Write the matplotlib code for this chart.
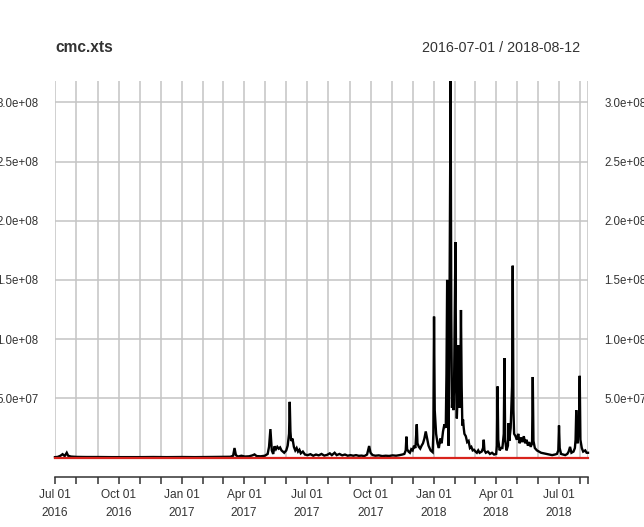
import matplotlib
matplotlib.use("Agg")
import matplotlib.pyplot as plt
import matplotlib.dates as mdates
import pandas as pd

# daily volume readings (millions)
dates = [
    "2016-07-01", "2016-07-05", "2016-07-09", "2016-07-12", "2016-07-15", "2016-07-18",
    "2016-07-20", "2016-07-24", "2016-08-01", "2016-08-15", "2016-09-01", "2016-09-20",
    "2016-10-10", "2016-11-01", "2016-11-20", "2016-12-10",
    "2017-01-01", "2017-01-20", "2017-02-10", "2017-03-01", "2017-03-12", "2017-03-16",
    "2017-03-18", "2017-03-20", "2017-03-23", "2017-03-28", "2017-04-02", "2017-04-08",
    "2017-04-13", "2017-04-16", "2017-04-19", "2017-04-25", "2017-05-01", "2017-05-05",
    "2017-05-07", "2017-05-09", "2017-05-11", "2017-05-13", "2017-05-15", "2017-05-17",
    "2017-05-19", "2017-05-21", "2017-05-23", "2017-05-25", "2017-05-27", "2017-05-29",
    "2017-06-01", "2017-06-03", "2017-06-05", "2017-06-06", "2017-06-07", "2017-06-08",
    "2017-06-10", "2017-06-12", "2017-06-14", "2017-06-16", "2017-06-18", "2017-06-20",
    "2017-06-22", "2017-06-25", "2017-06-28", "2017-07-02", "2017-07-06", "2017-07-10",
    "2017-07-14", "2017-07-18", "2017-07-22", "2017-07-26", "2017-07-30", "2017-08-03",
    "2017-08-06", "2017-08-10", "2017-08-13", "2017-08-17", "2017-08-21", "2017-08-25",
    "2017-08-29", "2017-09-02", "2017-09-06", "2017-09-10", "2017-09-14", "2017-09-18",
    "2017-09-22", "2017-09-26", "2017-09-29", "2017-10-01", "2017-10-04", "2017-10-08",
    "2017-10-13", "2017-10-18", "2017-10-23", "2017-10-28", "2017-11-02", "2017-11-07",
    "2017-11-12", "2017-11-16", "2017-11-19", "2017-11-21", "2017-11-22", "2017-11-23",
    "2017-11-25", "2017-11-27", "2017-11-29", "2017-12-01", "2017-12-03", "2017-12-05",
    "2017-12-07", "2017-12-08", "2017-12-10", "2017-12-12", "2017-12-14", "2017-12-16",
    "2017-12-18", "2017-12-20", "2017-12-22", "2017-12-24", "2017-12-27", "2017-12-30",
    "2017-12-31",
    "2018-01-01", "2018-01-02", "2018-01-04", "2018-01-06", "2018-01-08", "2018-01-10",
    "2018-01-12", "2018-01-14", "2018-01-16", "2018-01-18", "2018-01-19", "2018-01-20",
    "2018-01-21", "2018-01-22", "2018-01-23", "2018-01-25", "2018-01-26", "2018-01-27",
    "2018-01-28", "2018-01-29", "2018-01-30", "2018-01-31", "2018-02-01", "2018-02-02",
    "2018-02-03", "2018-02-04", "2018-02-05", "2018-02-06", "2018-02-07", "2018-02-08",
    "2018-02-09", "2018-02-10", "2018-02-11", "2018-02-12", "2018-02-13", "2018-02-14",
    "2018-02-16", "2018-02-18", "2018-02-20", "2018-02-22", "2018-02-24", "2018-02-26",
    "2018-02-28", "2018-03-02", "2018-03-04", "2018-03-06", "2018-03-08", "2018-03-11",
    "2018-03-13", "2018-03-14", "2018-03-15", "2018-03-17", "2018-03-20", "2018-03-23",
    "2018-03-26", "2018-03-29", "2018-04-01", "2018-04-02", "2018-04-03", "2018-04-04",
    "2018-04-06", "2018-04-08", "2018-04-10", "2018-04-12", "2018-04-13", "2018-04-14",
    "2018-04-16", "2018-04-18", "2018-04-19", "2018-04-20", "2018-04-22", "2018-04-24",
    "2018-04-25", "2018-04-26", "2018-04-27", "2018-04-29", "2018-05-01", "2018-05-03",
    "2018-05-05", "2018-05-07", "2018-05-09", "2018-05-11", "2018-05-13", "2018-05-15",
    "2018-05-17", "2018-05-19", "2018-05-21", "2018-05-23", "2018-05-24", "2018-05-25",
    "2018-05-27", "2018-05-30", "2018-06-02", "2018-06-05", "2018-06-09", "2018-06-13",
    "2018-06-17", "2018-06-21", "2018-06-25", "2018-06-28", "2018-06-30", "2018-07-01",
    "2018-07-02", "2018-07-04", "2018-07-07", "2018-07-10", "2018-07-13", "2018-07-15",
    "2018-07-17", "2018-07-19", "2018-07-22", "2018-07-24", "2018-07-25", "2018-07-26",
    "2018-07-27", "2018-07-28", "2018-07-29", "2018-07-30", "2018-07-31", "2018-08-01",
    "2018-08-03", "2018-08-05", "2018-08-08", "2018-08-10", "2018-08-12",
]
volume_m = [
    0.3, 0.5, 1.5, 2.8, 1.2, 4.0,
    1.5, 0.8, 0.5, 0.4, 0.4, 0.3,
    0.3, 0.3, 0.4, 0.3,
    0.4, 0.3, 0.4, 0.5, 0.6, 1.5,
    8.0, 2.0, 0.8, 1.5, 0.8, 1.0,
    1.8, 2.6, 1.2, 1.0, 1.5, 3.0,
    9.0, 24.0, 6.0, 3.0, 9.5, 7.0,
    9.0, 7.5, 8.5, 6.0, 5.0, 4.0,
    6.0, 10.0, 20.0, 47.0, 22.0, 14.0,
    16.0, 9.0, 6.0, 8.0, 5.0, 6.5,
    3.5, 5.0, 2.5, 2.0, 2.8, 1.5,
    2.5, 1.8, 3.0, 1.6, 2.2, 3.5,
    2.0, 4.0, 2.0, 3.0, 1.8, 2.5,
    1.5, 2.0, 1.5, 2.0, 1.4, 1.6,
    1.2, 2.5, 9.7, 4.0, 2.0, 1.5,
    1.8, 1.2, 1.5, 1.3, 1.8, 1.5,
    2.0, 2.5, 3.0, 6.0, 17.6, 7.0,
    5.0, 4.0, 7.0, 6.0, 10.0, 8.0,
    28.0, 12.0, 9.0, 7.5, 10.0, 12.0,
    16.0, 22.0, 16.0, 10.0, 6.0, 4.5,
    20.0,
    119.0, 40.0, 20.0, 12.0, 8.0, 16.0,
    12.0, 22.0, 28.0, 25.0, 70.0, 150.0,
    60.0, 10.0, 80.0, 318.0, 120.0, 42.0,
    55.0, 40.0, 60.0, 120.0, 182.0, 60.0,
    33.0, 50.0, 95.0, 55.0, 42.0, 60.0,
    124.6, 60.0, 27.0, 32.0, 25.0, 20.0,
    18.0, 13.0, 14.0, 8.0, 9.0, 6.0,
    6.5, 5.0, 4.0, 6.0, 4.0, 5.0,
    8.0, 15.0, 6.0, 4.0, 5.0, 3.0,
    4.0, 2.5, 3.0, 10.0, 60.0, 15.0,
    6.0, 8.0, 8.0, 20.0, 84.0, 15.0,
    6.0, 10.0, 29.0, 14.0, 25.0, 60.0,
    162.0, 40.0, 20.0, 18.0, 15.0, 20.0,
    12.0, 17.0, 13.0, 18.0, 12.0, 15.0,
    10.0, 13.0, 9.0, 12.0, 68.0, 14.0,
    8.0, 6.0, 5.0, 4.0, 3.5, 3.0,
    2.5, 2.0, 2.5, 3.0, 6.0, 27.0,
    8.0, 3.0, 2.5, 2.0, 3.0, 5.0,
    9.0, 4.0, 5.0, 8.0, 15.0, 40.0,
    20.0, 12.0, 23.0, 30.0, 69.0, 15.0,
    8.0, 5.0, 6.0, 4.0, 4.0,
]

# second column, practically zero on this scale
red_dates = ["2016-07-01", "2017-01-01", "2017-07-01", "2018-01-01", "2018-08-12"]
red_values = [0.0, 0.0, 0.0, 0.0, 0.0]

title = "cmc.xts"
date_range = "2016-07-01 / 2018-08-12"
y_ticks = [5e7, 1e8, 1.5e8, 2e8, 2.5e8, 3e8]

plt.rcParams["font.family"] = ["Liberation Sans", "DejaVu Sans"]

x = pd.to_datetime(dates)
y = [v * 1e6 for v in volume_m]
xr = pd.to_datetime(red_dates)

W, H = 644, 527
fig = plt.figure(figsize=(W / 100, H / 100), dpi=100)
ax = fig.add_axes([55 / W, 1 - 457.5 / H, (588 - 55) / W, (457.5 - 81) / H])

ax.plot(x, y, color="black", lw=1.7, clip_on=False, zorder=3, solid_joinstyle="miter")
ax.plot(xr, red_values, color="#D8231C", lw=1.6, clip_on=False, zorder=4)

x0, x1 = x[0], x[-1]
ax.set_xlim(x0, x1)
ax.set_ylim(min(min(red_values), min(y)), max(y))

# ticks: every month plus the last day
ticks = list(pd.date_range(x0, x1, freq="MS")) + [x1]
tnum = mdates.date2num(ticks)
labels = [
    f"{t.strftime('%b %d')}\n{t.year}" if (t.day == 1 and t.month in (1, 4, 7, 10)) else ""
    for t in ticks
]
ax.set_xticks(tnum)
ax.set_xticklabels(labels)
ax.set_yticks(y_ticks)
ax.yaxis.set_major_formatter(plt.FuncFormatter(lambda v, p: f"{v:.1e}"))

for s in ("top", "left", "right"):
    ax.spines[s].set_visible(False)
ax.spines["bottom"].set_position(("outward", 14))
ax.spines["bottom"].set_bounds(tnum[0], tnum[-1])
ax.spines["bottom"].set_linewidth(1.1)
ax.spines["bottom"].set_color("#333333")

ax.tick_params(axis="x", direction="out", length=5, width=1.1, color="#333333",
               labelsize=8.6, labelcolor="#333333", pad=4)
ax.tick_params(axis="y", length=0, labelsize=8.3, labelcolor="#333333",
               labelleft=True, labelright=True, pad=12)
for lab in ax.get_xticklabels():
    lab.set_linespacing(1.6)

ax.grid(True, color="#C4C4C4", lw=1.1)
ax.set_axisbelow(True)

fig.text(55 / W, 1 - 48 / H, title, fontsize=11.2, fontweight="bold",
         color="#333333", ha="left", va="center")
fig.text(580 / W, 1 - 48 / H, date_range, fontsize=10.3,
         color="#333333", ha="right", va="center")

fig.savefig("out.png", dpi=100)
